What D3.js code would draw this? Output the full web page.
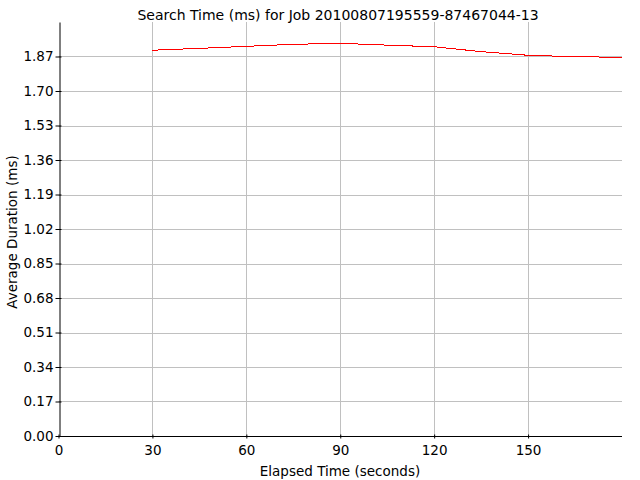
<!DOCTYPE html>
<html>
<head>
<meta charset="utf-8">
<script src="https://cdn.jsdelivr.net/npm/d3@7"></script>
<style>
  body { margin: 0; background: #fff; }
  text { font-family: "DejaVu Sans", sans-serif; fill: #000; }
</style>
</head>
<body>
<svg id="chart" width="640" height="480"></svg>
<script>
// elapsed seconds and average search time
const elapsed = [30, 45, 60, 75, 90, 105, 120, 135, 150, 165, 180];
const avgDuration = [1.901, 1.910, 1.920, 1.930, 1.935, 1.926, 1.918, 1.894, 1.876, 1.869, 1.866];

const xTicks = [0, 30, 60, 90, 120, 150];
const yTicks = [0.00, 0.17, 0.34, 0.51, 0.68, 0.85, 1.02, 1.19, 1.36, 1.53, 1.70, 1.87];

const titleText = "Search Time (ms) for Job 20100807195559-87467044-13";
const xLabel = "Elapsed Time (seconds)";
const yLabel = "Average Duration (ms)";

const width = 640, height = 480;
const margin = {top: 22, right: 18, bottom: 44, left: 58.5};

const svg = d3.select("#chart");

const x = d3.scaleLinear()
    .domain([0, 180])
    .range([margin.left, width - margin.right]);
const y = d3.scaleLinear()
    .domain([0, 2.04])
    .range([height - margin.bottom, margin.top]);

// grid lines
svg.append("g")
    .selectAll("line")
    .data(xTicks.filter(d => d > 0))
    .enter()
    .append("line")
    .attr("x1", d => Math.round(x(d)) + 0.5)
    .attr("x2", d => Math.round(x(d)) + 0.5)
    .attr("y1", y.range()[1])
    .attr("y2", y.range()[0])
    .style("stroke", "#c0c0c0");

svg.append("g")
    .selectAll("line")
    .data(yTicks.filter(d => d > 0))
    .enter()
    .append("line")
    .attr("x1", x.range()[0])
    .attr("x2", x.range()[1])
    .attr("y1", d => Math.round(y(d)) + 0.5)
    .attr("y2", d => Math.round(y(d)) + 0.5)
    .style("stroke", "#c0c0c0");

// the series
const line = d3.line()
    .x((d, i) => x(elapsed[i]))
    .y(d => y(d));

svg.append("path")
    .datum(avgDuration)
    .attr("d", line)
    .style("fill", "none")
    .style("stroke", "#ff0000")
    .style("stroke-width", 1)
    .style("shape-rendering", "crispEdges");

// axes
const xAxis = d3.axisBottom(x)
    .tickValues(xTicks)
    .tickFormat(d3.format("d"))
    .tickSizeInner(2)
    .tickSizeOuter(0)
    .tickPadding(7);

const yAxis = d3.axisLeft(y)
    .tickValues(yTicks)
    .tickFormat(d3.format(".2f"))
    .tickSizeInner(4)
    .tickSizeOuter(0)
    .tickPadding(2);

const gx = svg.append("g")
    .attr("transform", `translate(0, ${Math.round(y(0)) + 0.5})`)
    .call(xAxis);
gx.select(".domain").attr("d", `M${x.range()[0]},0H${x.range()[1]}`);
gx.selectAll(".tick line").attr("y1", -2);

const gy = svg.append("g")
    .attr("transform", `translate(${Math.round(x(0)) + 0.5}, 0)`)
    .call(yAxis);
gy.selectAll(".tick line").attr("x1", 2);

svg.selectAll(".tick text")
    .style("font-size", "13.5px")
    .style("font-family", "DejaVu Sans, sans-serif");

// titles
svg.append("text")
    .attr("x", 338)
    .attr("y", 20)
    .attr("text-anchor", "middle")
    .style("font-size", "14px")
    .text(titleText);

svg.append("text")
    .attr("x", 340)
    .attr("y", 476)
    .attr("text-anchor", "middle")
    .style("font-size", "13.5px")
    .text(xLabel);

svg.append("text")
    .attr("transform", "translate(16.5, 232) rotate(-90)")
    .attr("text-anchor", "middle")
    .style("font-size", "13.5px")
    .text(yLabel);
</script>
</body>
</html>
